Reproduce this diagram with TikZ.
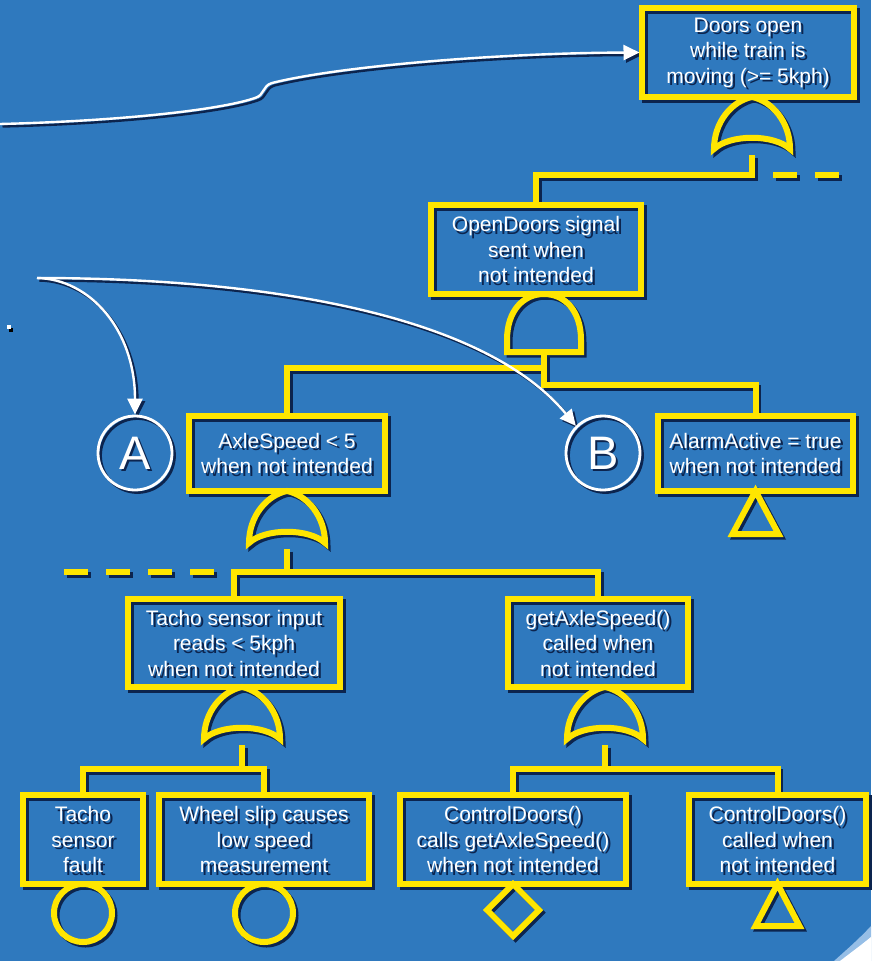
\documentclass[tikz,border=0pt]{standalone}
\usepackage{fontspec}
\setmainfont{Liberation Sans}
\usetikzlibrary{arrows.meta,shapes.geometric}

\definecolor{slidebg}{RGB}{47,121,190}
\definecolor{gold}{RGB}{255,230,0}
\definecolor{navy}{RGB}{12,36,78}
\definecolor{cornerlight}{RGB}{150,190,230}
% colours used by the scene; the shadow pass overrides them
\colorlet{fr}{gold}
\colorlet{tx}{white}
\colorlet{wl}{white}

\tikzset{
  box/.style={draw=fr, line width=6pt, text=tx, align=center, inner sep=0pt,
    outer sep=0pt, minimum height=89pt, font=\fontsize{21}{25.5}\selectfont},
  conn/.style={draw=fr, line width=6pt},
  dashconn/.style={draw=fr, line width=6pt, dash pattern=on 24pt off 18pt},
  gate/.style={draw=fr, line width=6pt, line join=miter},
  event/.style={draw=fr, line width=6pt, circle, minimum size=58pt,
    inner sep=0pt, outer sep=0pt},
  letter/.style={draw=wl, line width=2.8pt, circle, minimum size=74pt,
    inner sep=0pt, text=tx, font=\fontsize{47}{47}\selectfont},
  wline/.style={draw=wl, line width=2.4pt,
    -{Triangle[length=16pt,width=15pt]}},
  orgate/.pic={
    \draw[gate] (-38,52) .. controls (-38,25) and (-20,4) .. (0,0)
      .. controls (20,4) and (38,25) .. (38,52)
      .. controls (22,37) and (-22,37) .. (-38,52) -- cycle;
    \coordinate (-out) at (0,58);
  },
  andgate/.pic={
    \draw[gate] (-37,58) -- (-37,46) .. controls (-37,16) and (-20,0) .. (0,0)
      .. controls (20,0) and (37,16) .. (37,46) -- (37,58) -- cycle;
    \coordinate (-out) at (0,58);
  },
}

% the fault tree, drawn once as shadow and once in colour
\newcommand\ftscene{%
  % events
  \node[box, minimum width=212pt] (top) at (748,52.5)
    {Doors open\\while train is\\moving (>= 5kph)};
  \node[box, minimum width=210pt] (open) at (536,249.5)
    {OpenDoors signal\\sent when\\not intended};
  \node[box, minimum width=196pt, minimum height=75pt] (axle) at (287,453.5)
    {AxleSpeed < 5\\when not intended};
  \node[box, minimum width=195pt, minimum height=75pt] (alarm) at (755.5,453.5)
    {AlarmActive = true\\when not intended};
  \node[box, minimum width=212pt, minimum height=88pt] (tacho) at (234,643)
    {Tacho sensor input\\reads < 5kph\\when not intended};
  \node[box, minimum width=180pt, minimum height=88pt] (getax) at (598,643)
    {getAxleSpeed()\\called when\\not intended};
  \node[box, minimum width=120pt] (fault) at (83,839.5)
    {Tacho\\sensor\\fault};
  \node[box, minimum width=210pt] (slip) at (264,839.5)
    {Wheel slip causes\\low speed\\measurement};
  \node[box, minimum width=226pt] (calls) at (513,839.5)
    {ControlDoors()\\calls getAxleSpeed()\\when not intended};
  \node[box, minimum width=177pt] (called) at (777.5,839.5)
    {ControlDoors()\\called when\\not intended};
  % gates
  \pic (g1) at (752,97) {orgate};
  \pic (g2) at (544,294) {andgate};
  \pic (g3) at (287,491) {orgate};
  \pic (g4) at (242,687) {orgate};
  \pic (g5) at (605,687) {orgate};
  % gate outputs to child events
  \draw[conn] (g1-out) -- ++(0,20) -| (open.north);
  \coordinate (d1a) at (773,175);
  \coordinate (d1b) at (839,175);
  \draw[dashconn] (d1a) -- (d1b);
  \draw[conn] (g2-out) ++(0,16) -| (axle.north);
  \draw[conn] (g2-out) -- ++(0,33) -| (alarm.north);
  \draw[conn] (g3-out) -- ++(0,23) -| (tacho.north);
  \draw[conn] (g3-out) ++(0,23) -| (getax.north);
  \coordinate (d2a) at (214,572);
  \coordinate (d2b) at (64,572);
  \draw[dashconn] (d2a) -- (d2b);
  \draw[conn] (g4-out) -- ++(0,24) -| (fault.north);
  \draw[conn] (g4-out) ++(0,24) -| (slip.north);
  \draw[conn] (g5-out) -- ++(0,24) -| (calls.north);
  \draw[conn] (g5-out) ++(0,24) -| (called.north);
  % basic, undeveloped and transfer symbols
  \node[event] (ev1) at (83,913) {};
  \node[event] (ev2) at (264,913) {};
  \draw[gate] (calls.south) -- ++(26,26) -- ++(-26,26) -- ++(-26,-26) -- cycle;
  \draw[gate] (called.south) -- ++(22,42) -- ++(-44,0) -- cycle;
  \draw[gate] (alarm.south) -- ++(23,43) -- ++(-46,0) -- cycle;
  \node[letter] (A) at (135,453) {A};
  \node[letter] (B) at (603,453) {B};
  % callout arrows
  \coordinate (w1) at (0,124);
  \draw[wline, shorten >=2.5pt] (w1) .. controls (120,121) and (220,110) .. (255,98)
    .. controls (265,95) and (262,86) .. (272,83)
    .. controls (340,66) and (500,53) .. (top.west);
  \coordinate (w2) at (37,278);
  \draw[wline] (w2) .. controls (90,279) and (135,330) .. (A.north);
  \draw[wline] (w2) .. controls (250,278) and (480,310) .. (B.north west);
}

\begin{document}
\begin{tikzpicture}[x=1pt, y=-1pt]
  \useasboundingbox (0,0) rectangle (871,961);
  \fill[slidebg] (0,0) rectangle (871,961);
  % lighter corner of the slide background
  \fill[cornerlight] (871,926) .. controls (858,940) and (845,951) .. (834,961)
    -- (871,961) -- cycle;
  \fill[white] (871,937) .. controls (860,946) and (849,954) .. (840,961)
    -- (871,961) -- cycle;
  % bullet mark
  \fill[black] (9,328) rectangle (13,332);
  \fill[white] (7,325) rectangle (11,329);
  % shadow pass
  \begin{scope}[shift={(2.5,2.5)}]
    \colorlet{fr}{navy}\colorlet{tx}{navy}\colorlet{wl}{navy}
    \ftscene
  \end{scope}
  % colour pass
  \ftscene
\end{tikzpicture}
\end{document}
